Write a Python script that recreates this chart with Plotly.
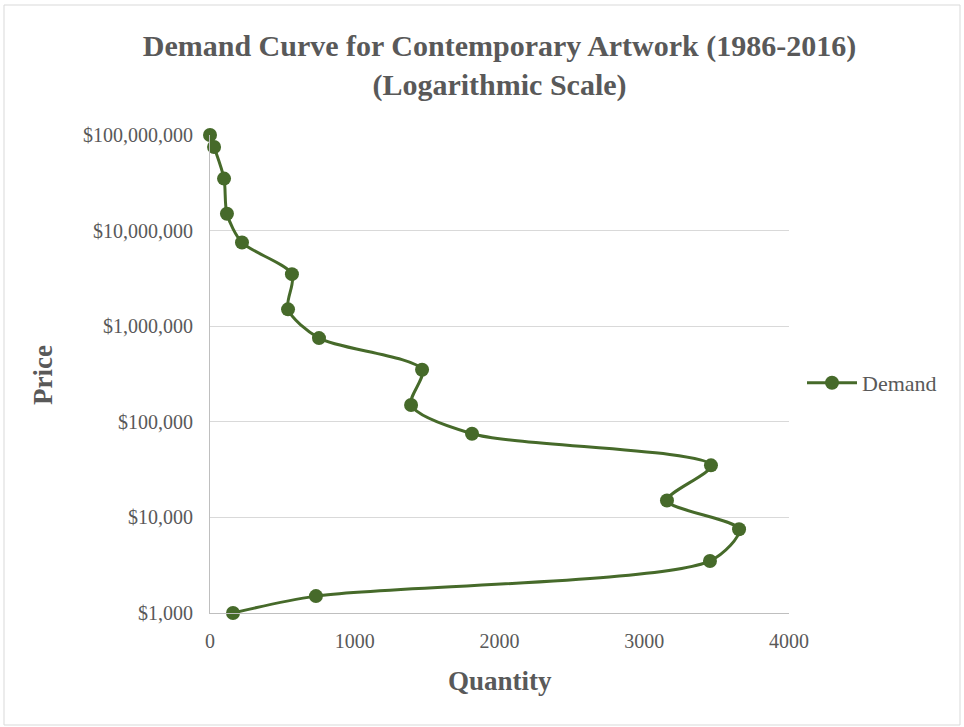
import plotly.graph_objects as go

quantity = [0, 28, 97, 117, 221, 566, 539, 753, 1465, 1389, 1810, 3461, 3157, 3655, 3454, 732, 159]
price = [1e8, 7.5e7, 3.5e7, 1.5e7, 7.5e6, 3.5e6, 1.5e6, 7.5e5, 3.5e5, 1.5e5, 7.5e4, 3.5e4, 1.5e4, 7.5e3, 3.5e3, 1.5e3, 1e3]
y_tickvals = [1e3, 1e4, 1e5, 1e6, 1e7, 1e8]
y_ticktext = ["$1,000", "$10,000", "$100,000", "$1,000,000", "$10,000,000", "$100,000,000"]
x_tickvals = [0, 1000, 2000, 3000, 4000]

GREEN = "#466a2a"
GRAY = "#595959"
FONT = "Liberation Serif"

fig = go.Figure()
fig.add_trace(go.Scatter(
    x=quantity, y=price, mode="lines+markers", name="Demand",
    line=dict(color=GREEN, width=3, shape="spline", smoothing=0.8),
    marker=dict(color=GREEN, size=14),
    cliponaxis=False,
))

L, R, T, B = 210, 789, 135, 613
W, H = 964, 727
pw, ph = R - L, B - T

def px(x):
    return (x - L) / pw

def py(y):
    return (B - y) / ph

fig.update_layout(
    width=W, height=H,
    margin=dict(l=L, r=W - R, t=T, b=H - B),
    paper_bgcolor="white", plot_bgcolor="white",
    font=dict(family=FONT, color=GRAY, size=20),
    title=dict(
        text="<b>Demand Curve for Contemporary Artwork (1986-2016)<br>(Logarithmic Scale)</b>",
        x=0.5, xanchor="center", xref="paper", y=1 - 56 / H, yanchor="middle",
        font=dict(family=FONT, size=30, color=GRAY),
    ),
    xaxis=dict(
        range=[0, 4000], tickvals=x_tickvals, showgrid=False, zeroline=False,
        showline=True, linecolor="#bfbfbf", linewidth=1, ticks="",
        tickfont=dict(size=20, color=GRAY), ticklabelstandoff=10,
    ),
    yaxis=dict(
        type="log", range=[2.9995, 8], tickvals=y_tickvals, ticktext=y_ticktext,
        showgrid=True, gridcolor="#d9d9d9", gridwidth=1, zeroline=False,
        showline=True, linecolor="#bfbfbf", linewidth=1, ticks="",
        tickfont=dict(size=20, color=GRAY), ticklabelstandoff=12,
    ),
    legend=dict(
        x=px(802), y=py(383), xanchor="left", yanchor="middle",
        font=dict(size=22, color=GRAY), bgcolor="rgba(0,0,0,0)", itemwidth=50,
    ),
    showlegend=True,
)

fig.add_annotation(
    text="<b>Quantity</b>", xref="paper", yref="paper", x=px(500), y=py(681),
    xanchor="center", yanchor="middle", showarrow=False,
    font=dict(size=27, color=GRAY, family=FONT),
)
fig.add_annotation(
    text="<b>Price</b>", xref="paper", yref="paper", x=px(43), y=py(375),
    xanchor="center", yanchor="middle", showarrow=False, textangle=-90,
    font=dict(size=27, color=GRAY, family=FONT),
)

fig.add_shape(
    type="rect", xref="paper", yref="paper",
    x0=px(4), x1=px(W - 4), y0=py(H - 2), y1=py(5),
    line=dict(color="#d9d9d9", width=1), fillcolor="rgba(0,0,0,0)", layer="below",
)

fig.write_html("out.html")
